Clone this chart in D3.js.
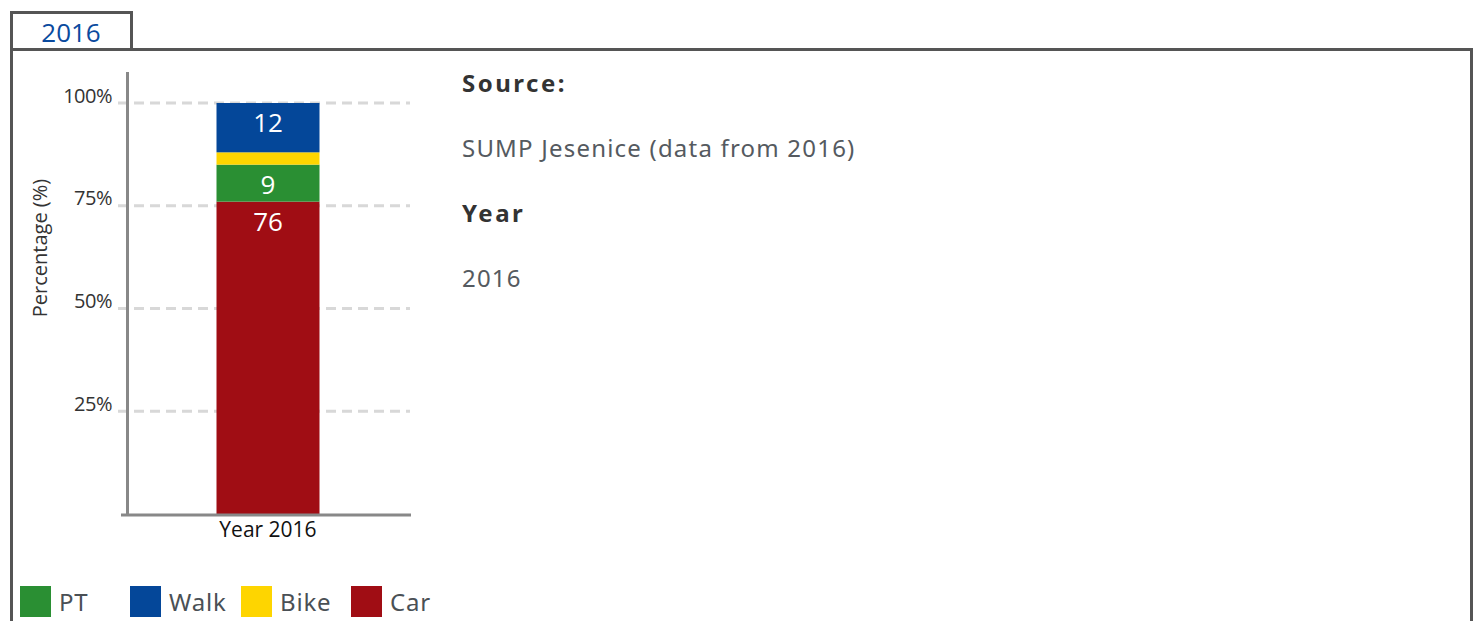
<!DOCTYPE html>
<html>
<head>
<meta charset="utf-8">
<script src="https://cdn.jsdelivr.net/npm/d3@7"></script>
<style>
  body { margin: 0; background: #fff; }
  svg { display: block; }
</style>
</head>
<body>
<div class="chart" style="width:1479px;height:621px"></div>
<script>
// data
const categories = ['Year 2016'];
const modes = ['Car', 'PT', 'Bike', 'Walk'];
const shares = { Car: [76], PT: [9], Bike: [3], Walk: [12] };
const colors = { PT: '#2a8f33', Walk: '#044799', Bike: '#fed500', Car: '#a00d14' };
const legendOrder = ['PT', 'Walk', 'Bike', 'Car'];
const yTicks = [25, 50, 75, 100];
const infoLines = [
  { text: 'Source:', bold: true },
  { text: 'SUMP Jesenice (data from 2016)', bold: false },
  { text: 'Year', bold: true },
  { text: '2016', bold: false }
];

const width = 1479, height = 621;
const svg = d3.select('.chart').append('svg')
  .attr('width', width)
  .attr('height', height);

// tab + panel border
svg.append('path')
  .attr('d', 'M11.5,621 V49.5 H1471.5 V621')
  .style('fill', 'none')
  .style('stroke', '#555')
  .style('stroke-width', 3);
svg.append('rect')
  .attr('x', 11.5).attr('y', 12.5)
  .attr('width', 120).attr('height', 37)
  .style('fill', '#fff')
  .style('stroke', '#555')
  .style('stroke-width', 3);
svg.append('text')
  .attr('x', 71).attr('y', 42)
  .attr('text-anchor', 'middle')
  .style('font-family', 'Open Sans, sans-serif')
  .style('font-size', '26px')
  .style('fill', '#0a4a9e')
  .text('2016');

// scales
const x = d3.scaleBand().domain(categories).range([128, 408]).paddingInner(0).paddingOuter(0.32);
const y = d3.scaleLinear().domain([0, 100]).range([514, 103]);

// gridlines
svg.append('g').selectAll('line')
  .data(yTicks)
  .join('line')
  .attr('x1', 118).attr('x2', 410)
  .attr('y1', d => y(d)).attr('y2', d => y(d))
  .style('stroke', '#d8d8d8')
  .style('stroke-width', 3)
  .style('stroke-dasharray', '10,6');

// stacked bars
const stack = d3.stack().keys(modes);
const rows = categories.map((c, i) => {
  const r = { cat: c };
  modes.forEach(m => r[m] = shares[m][i]);
  return r;
});
const layers = stack(rows);

const bw = 103;
layers.forEach(layer => {
  const g = svg.append('g');
  g.selectAll('rect')
    .data(layer)
    .join('rect')
    .attr('x', d => x(d.data.cat) + x.bandwidth() / 2 - bw / 2)
    .attr('width', bw)
    .attr('y', d => y(d[1]))
    .attr('height', d => y(d[0]) - y(d[1]))
    .style('fill', colors[layer.key]);
  g.selectAll('text')
    .data(layer.filter(d => d[1] - d[0] >= 5))
    .join('text')
    .attr('x', d => x(d.data.cat) + x.bandwidth() / 2)
    .attr('y', d => y(d[1]) + 29)
    .attr('text-anchor', 'middle')
    .style('font-family', 'Open Sans, sans-serif')
    .style('font-size', '26px')
    .style('fill', '#fff')
    .text(d => d[1] - d[0]);
});

// axes
const yAxis = svg.append('g')
  .attr('transform', 'translate(127,0)')
  .call(d3.axisLeft(y).tickValues(yTicks).tickSize(0).tickPadding(15).tickFormat(d => d + '%'));
yAxis.select('.domain').remove();
yAxis.selectAll('text')
  .style('font-family', 'Open Sans, sans-serif')
  .style('font-size', '20px')
  .style('letter-spacing', '-0.5px')
  .style('fill', '#333')
  .attr('dy', '-0.05em');

svg.append('line')
  .attr('x1', 127.5).attr('x2', 127.5)
  .attr('y1', 72).attr('y2', 516)
  .style('stroke', '#888').style('stroke-width', 3);
svg.append('line')
  .attr('x1', 121).attr('x2', 411)
  .attr('y1', 515).attr('y2', 515)
  .style('stroke', '#888').style('stroke-width', 3);

const xAxis = svg.append('g')
  .attr('transform', 'translate(0,515)')
  .call(d3.axisBottom(x).tickSize(0).tickPadding(7));
xAxis.select('.domain').remove();
xAxis.selectAll('text')
  .style('font-family', 'Open Sans, sans-serif')
  .style('font-size', '21px')
  .style('fill', '#111');

svg.append('text')
  .attr('transform', 'translate(47,248) rotate(-90)')
  .attr('text-anchor', 'middle')
  .style('font-family', 'Open Sans, sans-serif')
  .style('font-size', '20px')
  .style('fill', '#333')
  .text('Percentage (%)');

// info text
svg.append('g').selectAll('text')
  .data(infoLines)
  .join('text')
  .attr('x', 462)
  .attr('y', (d, i) => 92 + i * 65)
  .style('font-family', 'Noto Sans, sans-serif')
  .style('font-size', '24px')
  .style('font-weight', d => d.bold ? 'bold' : 'normal')
  .style('letter-spacing', d => d.bold ? '2.5px' : '1.2px')
  .style('fill', d => d.bold ? '#333' : '#555a60')
  .text(d => d.text);

// legend, sitting right at the bottom edge
const legendX = [20, 130, 241, 351];
const lg = svg.append('g').selectAll('g')
  .data(legendOrder)
  .join('g')
  .attr('transform', (d, i) => `translate(${legendX[i]},586)`);
lg.append('rect')
  .attr('width', 31).attr('height', 31)
  .style('fill', d => colors[d]);
lg.append('text')
  .attr('x', 39).attr('y', 25)
  .style('font-family', 'Noto Sans, sans-serif')
  .style('font-size', '24px')
  .style('letter-spacing', '0.8px')
  .style('fill', '#4a5055')
  .text(d => d);
</script>
</body>
</html>
